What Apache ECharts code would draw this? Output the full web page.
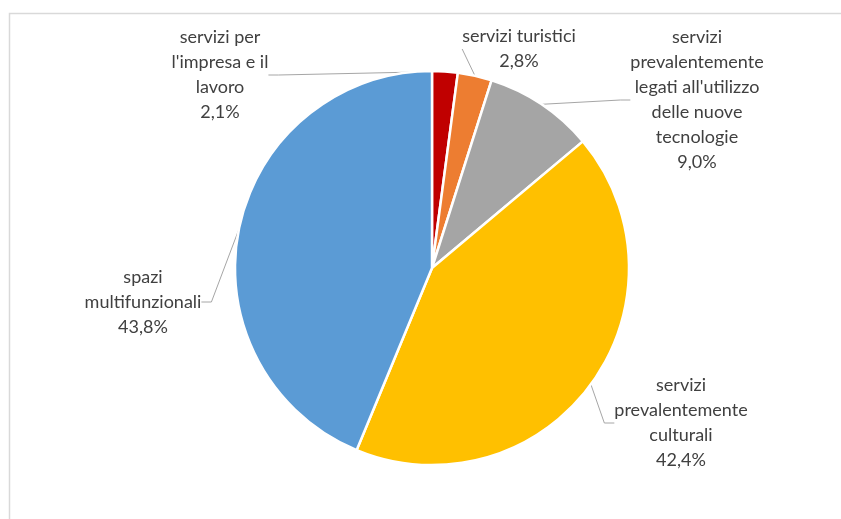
<!DOCTYPE html>
<html>
<head>
<meta charset="utf-8">
<script src="https://cdn.jsdelivr.net/npm/echarts@6/dist/echarts.min.js"></script>
<style>
  html, body { margin: 0; padding: 0; background: #ffffff; }
  #chart { width: 841px; height: 519px; }
</style>
</head>
<body>
<div id="chart"></div>
<script>
// Categories and shares (%) in clockwise order from 12 o'clock
const categories = [
  "servizi per\nl'impresa e il\nlavoro",
  "servizi turistici",
  "servizi\nprevalentemente\nlegati all'utilizzo\ndelle nuove\ntecnologie",
  "servizi\nprevalentemente\nculturali",
  "spazi\nmultifunzionali"
];
const shares = [2.1, 2.8, 9.0, 42.4, 43.8];
const colors = ['#C00000', '#ED7D31', '#A5A5A5', '#FFC000', '#5B9BD5'];

// Where each label block sits (centre of the text block)
const labelPos = [
  [220, 75],
  [519, 49],
  [697, 100],
  [681, 423],
  [143, 302]
];

const fmt = v => v.toFixed(1).replace('.', ',') + '%';

const chart = echarts.init(document.getElementById('chart'), null, { renderer: 'canvas' });
chart.setOption({
  backgroundColor: '#ffffff',
  animation: false,
  graphic: [{
    type: 'rect',
    shape: { x: 9.5, y: 13.5, width: 900, height: 600 },
    style: { fill: 'none', stroke: '#d9d9d9', lineWidth: 1.5 },
    silent: true
  }],
  series: [{
    type: 'pie',
    center: [432, 268],
    radius: 197,
    startAngle: 90,
    clockwise: true,
    avoidLabelOverlap: false,
    data: categories.map((name, i) => ({
      name: name,
      value: shares[i],
      itemStyle: { color: colors[i] }
    })),
    itemStyle: { borderColor: '#ffffff', borderWidth: 2.5 },
    label: {
      show: true,
      formatter: p => p.name + '\n' + fmt(p.value),
      fontFamily: 'Lato, "Open Sans", sans-serif',
      fontSize: 18,
      lineHeight: 25,
      color: '#404040',
      align: 'center'
    },
    labelLine: {
      show: true,
      length: 10,
      length2: 10,
      lineStyle: { color: '#a6a6a6', width: 1 }
    },
    labelLayout: function (params) {
      const pos = labelPos[params.dataIndex];
      return { x: pos[0], y: pos[1], align: 'center', verticalAlign: 'middle' };
    }
  }]
});
</script>
</body>
</html>
